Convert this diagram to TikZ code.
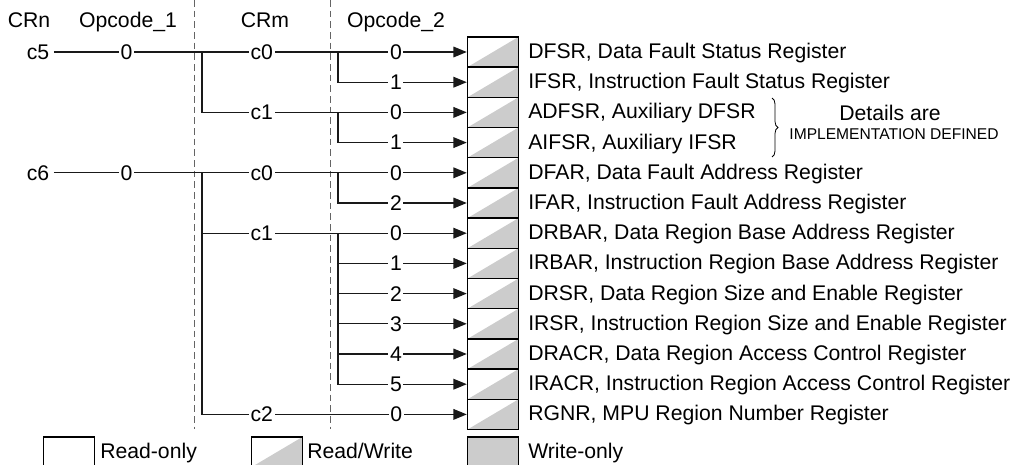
\documentclass[tikz,border=0pt]{standalone}
\usepackage{fontspec}
\setmainfont{Liberation Sans}
\usetikzlibrary{arrows.meta,decorations.pathreplacing}
\definecolor{regfill}{RGB}{204,204,204}
\definecolor{guidegray}{RGB}{100,100,100}

\begin{document}
\begin{tikzpicture}[x=0.75pt, y=-0.75pt,
    font=\fontsize{15.9}{18}\selectfont,
    conn/.style={line width=0.9pt, draw=black!90},
    arr/.style={conn, -{Triangle[length=10pt,width=8pt]}},
    lbl/.style={fill=white, inner xsep=1.2pt, inner ysep=0pt},
    robox/.style={draw, line width=1.1pt, minimum width=38.25pt, minimum height=22.65pt, inner sep=0pt},
    rwbox/.style={robox, path picture={\fill[regfill] (path picture bounding box.south west) -- (path picture bounding box.south east) -- (path picture bounding box.north east) -- cycle;}},
    wobox/.style={robox, fill=regfill},
    regtxt/.style={anchor=base west, inner sep=0pt},
    head/.style={anchor=base, inner sep=0pt},
    guide/.style={guidegray, line width=0.7pt, dash pattern=on 5pt off 3pt}]
    \useasboundingbox (0,0) rectangle (1013,464);

    % Column headings
    \node[head] (hCRn) at (29,27) {CRn};
    \node[head] (hOp1) at (128,27) {Opcode\_1};
    \node[head] (hCRm) at (265,27) {CRm};
    \node[head] (hOp2) at (396,27) {Opcode\_2};

    % Dashed column separators
    \coordinate (sepAtop) at (194,0);
    \coordinate (sepAbot) at (194,429);
    \coordinate (sepBtop) at (330,0);
    \coordinate (sepBbot) at (330,429);
    \draw[guide] (sepAtop) -- (sepAbot);
    \draw[guide] (sepBtop) -- (sepBbot);

    % Register boxes (all read/write)
    \node[rwbox] (r1) at (493,52) {};
    \node[rwbox] (r2) at (493,82.2) {};
    \node[rwbox] (r3) at (493,112.4) {};
    \node[rwbox] (r4) at (493,142.6) {};
    \node[rwbox] (r5) at (493,172.8) {};
    \node[rwbox] (r6) at (493,203) {};
    \node[rwbox] (r7) at (493,233.2) {};
    \node[rwbox] (r8) at (493,263.4) {};
    \node[rwbox] (r9) at (493,293.6) {};
    \node[rwbox] (r10) at (493,323.8) {};
    \node[rwbox] (r11) at (493,354) {};
    \node[rwbox] (r12) at (493,384.2) {};
    \node[rwbox] (r13) at (493,414.4) {};

    % Register names
    \node[regtxt] (t1) at (528,58.5) {DFSR, Data Fault Status Register};
    \node[regtxt] (t2) at (528,88.7) {IFSR, Instruction Fault Status Register};
    \node[regtxt] (t3) at (528,118.9) {ADFSR, Auxiliary DFSR};
    \node[regtxt] (t4) at (528,149.1) {AIFSR, Auxiliary IFSR};
    \node[regtxt] (t5) at (528,179.3) {DFAR, Data Fault Address Register};
    \node[regtxt] (t6) at (528,209.5) {IFAR, Instruction Fault Address Register};
    \node[regtxt] (t7) at (528,239.7) {DRBAR, Data Region Base Address Register};
    \node[regtxt] (t8) at (528,269.9) {IRBAR, Instruction Region Base Address Register};
    \node[regtxt] (t9) at (528,300.1) {DRSR, Data Region Size and Enable Register};
    \node[regtxt] (t10) at (528,330.3) {IRSR, Instruction Region Size and Enable Register};
    \node[regtxt] (t11) at (528,360.5) {DRACR, Data Region Access Control Register};
    \node[regtxt] (t12) at (528,390.7) {IRACR, Instruction Region Access Control Register};
    \node[regtxt] (t13) at (528,420.9) {RGNR, MPU Region Number Register};

    % CRn = c5
    \node (c5) at (38,52) {c5};
    \coordinate (A1) at (202,52);
    \coordinate (B1) at (338,52);
    \coordinate (B2) at (338,112.4);
    \draw[conn] (c5) -- node[lbl,pos=.49] {0} (A1);
    \draw[conn] (A1) -- node[lbl,pos=.44] {c0} (B1);
    \draw[conn] (A1) |- node[lbl,pos=.72] {c1} (B2);
    \draw[arr] (B1) -- node[lbl,pos=.45] {0} (r1);
    \draw[arr] (B1) |- node[lbl,pos=.725] {1} (r2);
    \draw[arr] (B2) -- node[lbl,pos=.45] {0} (r3);
    \draw[arr] (B2) |- node[lbl,pos=.725] {1} (r4);

    % CRn = c6
    \node (c6) at (38,172.8) {c6};
    \coordinate (A2) at (202,172.8);
    \coordinate (B3) at (338,172.8);
    \coordinate (B4) at (338,233.2);
    \draw[conn] (c6) -- node[lbl,pos=.49] {0} (A2);
    \draw[conn] (A2) -- node[lbl,pos=.44] {c0} (B3);
    \draw[conn] (A2) |- node[lbl,pos=.72] {c1} (B4);
    \draw[arr] (B3) -- node[lbl,pos=.45] {0} (r5);
    \draw[arr] (B3) |- node[lbl,pos=.725] {2} (r6);
    \draw[arr] (B4) -- node[lbl,pos=.45] {0} (r7);
    \draw[arr] (B4) |- node[lbl,pos=.725] {1} (r8);
    \draw[arr] (B4) |- node[lbl,pos=.725] {2} (r9);
    \draw[arr] (B4) |- node[lbl,pos=.725] {3} (r10);
    \draw[arr] (B4) |- node[lbl,pos=.725] {4} (r11);
    \draw[arr] (B4) |- node[lbl,pos=.725] {5} (r12);
    \draw[arr] (A2) |- node[lbl,pos=.613] {c2} node[lbl,pos=.867] {0} (r13);

    % Brace for the auxiliary registers
    \coordinate (braceTop) at (772,98);
    \coordinate (braceBot) at (772,157);
    \draw[line width=0.6pt, decorate, decoration={brace,amplitude=4.5pt}] (braceTop) -- (braceBot);
    \node (details) at (890,113) {Details are};
    \node[font=\fontsize{11.7}{13}\selectfont] (impdef) at (894,134) {IMPLEMENTATION DEFINED};

    % Key
    \node[robox] (kRO) at (69,452) {};
    \node[regtxt] (kROtxt) at (100,458.5) {Read-only};
    \node[rwbox] (kRW) at (277,452) {};
    \node[regtxt] (kRWtxt) at (307,458.5) {Read/Write};
    \node[wobox] (kWO) at (493,452) {};
    \node[regtxt] (kWOtxt) at (528,458.5) {Write-only};
\end{tikzpicture}
\end{document}
